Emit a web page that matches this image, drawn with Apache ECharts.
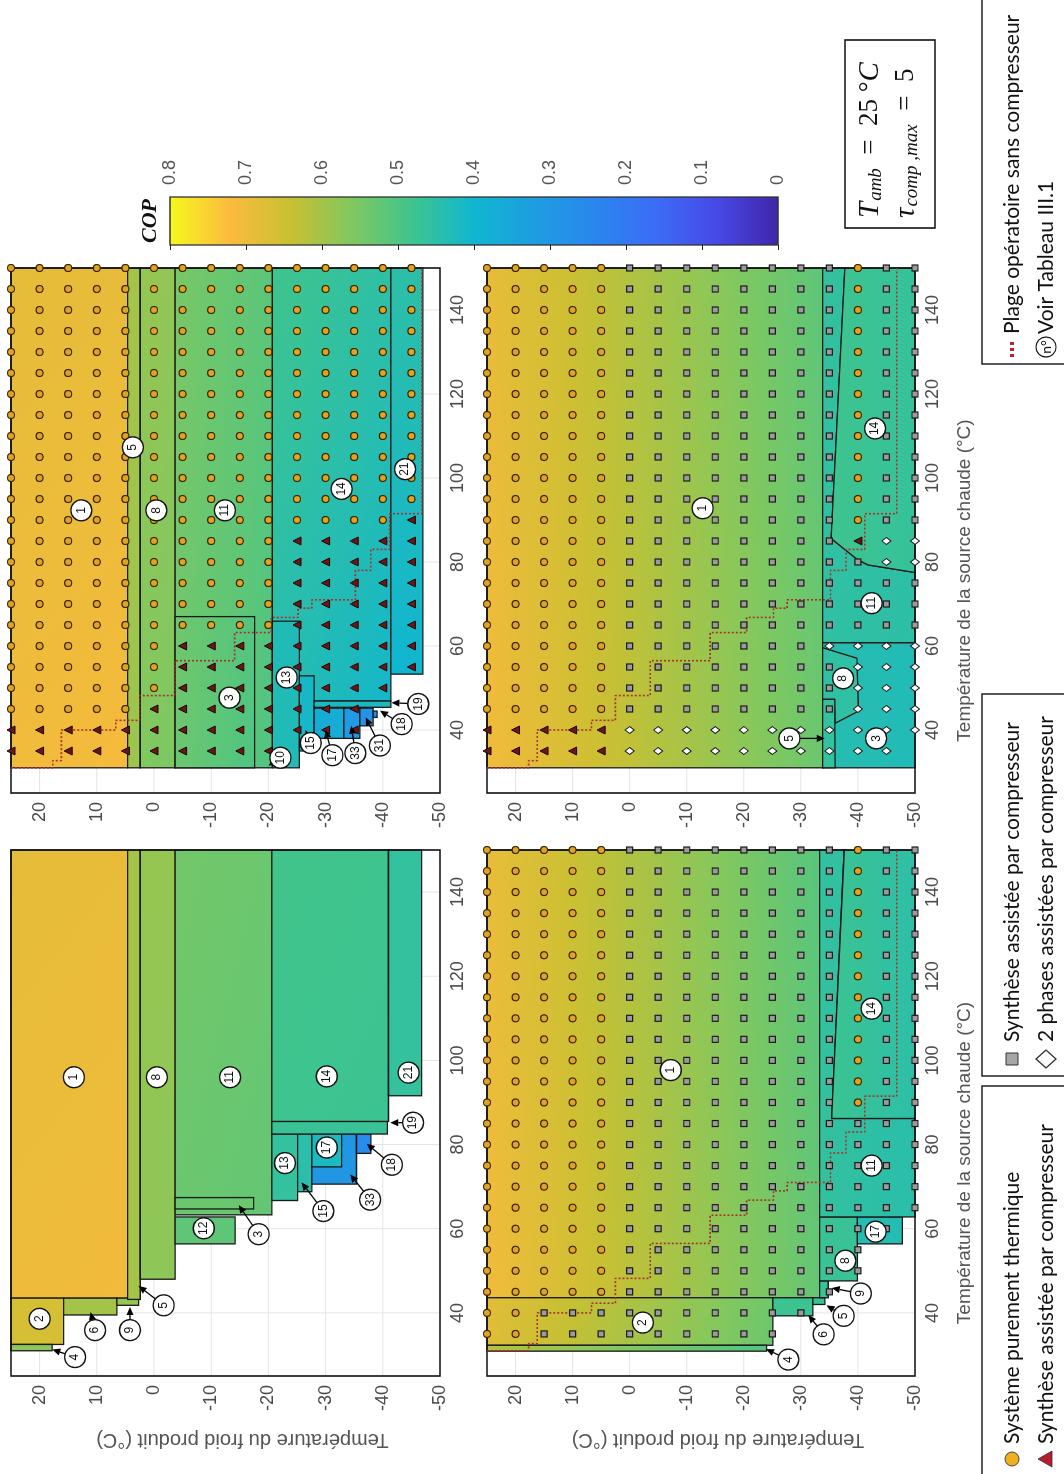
<!DOCTYPE html>
<html><head><meta charset="utf-8">
<script src="https://cdn.jsdelivr.net/npm/echarts@6/dist/echarts.min.js"></script>
<style>
html,body{margin:0;padding:0;background:#fff;}
#page{position:relative;width:1064px;height:1474px;overflow:hidden;background:#fff}
#chart{position:absolute;left:0;top:0;width:1474px;height:1064px;transform-origin:0 0;transform:translate(0px,1474px) rotate(-90deg);}
</style></head>
<body><div id="page"><div id="chart"></div></div>
<script>
// ---------------- DATA ----------------
const X_TICKS=[40,60,80,100,120,140];
const Y_TICKS=[-50,-40,-30,-20,-10,0,10,20];
const CB_TICKS=[0,0.1,0.2,0.3,0.4,0.5,0.6,0.7,0.8];
const DOT_X=[150,145,140,135,130,125,120,115,110,105,100,95,90,85,80,75,70,65,60,55,50,45,40,35,30,25];
const DOT_Y=[25,20,15,10,5,0,-5,-10,-15,-20,-25,-30,-35,-40,-45,-50];
// staircase: limit of operation without compressor (x = T source chaude, y = T froid)
const STAIR=[[31,25],[31,17.7],[32.7,17.7],[32.7,16.2],[40,16.2],[40,6.7],[42.3,6.7],[42.3,2.5],[48.2,2.5],[48.2,-3.6],[56.5,-3.6],[56.5,-14.1],[63.2,-14.1],[63.2,-20.5],[66.8,-20.5],[66.8,-25.2],[69,-25.2],[69,-27.6],[71,-27.6],[71,-35.2],[78,-35.2],[78,-37.9],[83,-37.9],[83,-41.2],[91.5,-41.2],[91.5,-46.8],[150,-46.8]];

// regions: [id, x0, x1, y0, y1, COP(x0,y1), COP(x1,y1), COP(x0,y0), COP(x1,y0)]  (or single COP)
const P1_RECTS=[
 ['1',43.5,150,4.6,25,.70,.685,.705,.69],
 ['2',32.5,43.5,15.8,25,.66],
 ['4',31,32.5,17.8,25,.575],
 ['6',39.5,43.5,6.5,15.8,.60],
 ['9',41.8,43.5,2.7,6.5,.585],
 ['5',43.2,150,2.4,4.6,.60],
 ['8',48,150,-3.7,2.4,.575,.585,.575,.585],
 ['11',63.3,150,-20.6,-3.7,.535,.545,.525,.535],
 ['12',56.4,62.8,-14.2,-3.7,.52],
 ['3',64.7,67.4,-17.4,-3.7,.535],
 ['13',66.7,82.5,-25.1,-20.6,.46],
 ['15',68.8,82.5,-27.6,-25.1,.445],
 ['33',70.6,82.5,-35.4,-27.6,.30],
 ['17',74.7,82.5,-32.8,-27.6,.42],
 ['18',77.9,82.5,-37.9,-35.4,.26],
 ['19',82.5,85.5,-40.8,-20.6,.47],
 ['14',85.5,150,-41,-20.6,.48,.485,.475,.48],
 ['21',91.6,150,-46.8,-41,.46]
];
const P1_POLYS=[];
// labels: [id, x, y, arrowX, arrowY]
const P1_LABELS=[
 ['1',96,14],['2',38.6,20],['4',29.5,13.8,31.3,17.8],['6',35.9,10.3,40.2,11.1],['9',35.9,4.2,41.4,4.2],
 ['5',41.8,-1.7,46.4,2.7],['8',96,-0.5],['11',96,-13.3],['12',60.1,-8.7],['3',58.7,-18.3,65.6,-14.8],
 ['13',75.6,-22.9],['15',64.2,-29.6,71,-25.8],['17',79.3,-30.2],['33',66.9,-37.8,72.9,-34.3],
 ['18',75.2,-41.6,80.2,-37.2],['19',85.2,-45.3,85.2,-41.3],['14',96.2,-30.2],['21',97.1,-44.5]
];

const P2_RECTS=[
 ['1',43.6,150,-33.3,25,.705,.69,.525,.51],
 ['2',32.3,43.6,-25.1,25,.675,.68,.535,.54],
 ['4',30.9,32.3,-24,25,.62,.62,.50,.50],
 ['6',39.3,43.6,-32.1,-25.1,.475],
 ['5',42,43.6,-34.2,-32.1,.47],
 ['9',43.6,47.6,-34.8,-33.3,.47],
 ['8',47.6,62.8,-39.9,-33.3,.47],
 ['17',56.4,62.8,-47.8,-39.9,.435]
];
const P2_POLYS=[
 ['11',[[62.8,-33.3],[150,-33.3],[150,-37.6],[86.2,-35.4],[86.2,-50],[62.8,-50]],.46,.46,.445,.445],
 ['14',[[86.2,-35.4],[150,-37.6],[150,-50],[86.2,-50]],.475,.475,.45,.45]
];
const P2_LABELS=[
 ['1',97.7,-7.2],['2',37.7,-2.3],['4',28.9,-27.8,31.4,-23.9],['6',34.9,-34,39.5,-31.3],['5',39.3,-37.5,41.8,-34.5],
 ['9',44.6,-40.5,45.9,-35.4],['8',52.4,-37.8],['17',59.3,-43.1],['11',75,-42.4],['14',112.3,-42.4]
];
const P2_MARKS=[
 '5o8s1o2s','5o8s1o2s','5o8s1o2s','5o8s1o2s','5o8s1o2s','5o8s1o2s','5o8s1o2s','5o8s1o2s','5o8s1o2s','5o8s1o2s','5o8s1o2s','5o8s1o2s','5o8s1o2s',
 '5o11s','5o11s','5o11s','5o11s','5o11s',
 '5o10s1.','5o9s2.','5o9s2.','5o8s3.','2o10s4.','2o9s5.','16.','16.'
];

const P3_RECTS=[
 ['1',31,150,4.6,25,.705,.685,.71,.69],
 ['5',31,150,2.4,4.6,.59,.60,.59,.60],
 ['8',31,150,-3.7,2.4,.56,.585,.555,.58],
 ['11',31,150,-20.7,-3.7,.54,.55,.50,.515],
 ['3',31,67,-17.6,-3.7,.535,.54,.50,.505],
 ['14',46.9,150,-41.4,-20.7,.44,.48,.405,.455],
 ['13',31,65.9,-25.4,-20.7,.43],
 ['21',53.3,150,-47,-41.4,.40,.45,.40,.45],
 ['15',35,52.9,-28,-25.4,.41],
 ['19',45.4,46.9,-41.4,-28,.42],
 ['17',38,45.2,-33.2,-28,.37],
 ['33',38,45.2,-36,-33.2,.31],
 ['31',41,45.2,-38.3,-36,.28],
 ['18',43,44.5,-39,-38.3,.25]
];
const P3_POLYS=[];
const P3_LABELS=[
 ['1',92.3,12.7],['5',107.3,3.7],['8',92.3,-0.4],['11',92.3,-12.4],['14',97.4,-32.8],['21',102.1,-43.9],
 ['3',47.7,-13.2],['13',52.5,-23.2],['10',33.4,-22.1,31.5,-20],['15',36.9,-27.4,40,-26.5],['17',34,-31.2,40,-30],
 ['33',34.5,-35.2,41,-34.5],['31',36.3,-39.5,43,-37],['18',41.4,-43.3,44.6,-39.5],['19',46.2,-46.2,46.5,-41.5]
];
const P3_MARKS=[
 '15o1.','15o1.','15o1.','15o1.','15o1.','15o1.','15o1.','15o1.','15o1.','15o1.','15o1.','15o1.',
 '14o1t1.','10o5t1.','10o5t1.','10o5t1.','10o5t1.','10o5t1.',
 '6o9t1.','6o9t1.','6o8t2.','5o8t3.','13t3.','10t6.','16.','16.'
];

const P4_RECTS=[
 ['1',31,150,-33.8,25,.705,.69,.535,.515],
 ['3',31,60.8,-50,-33.8,.44,.44,.43,.43]
];
const P4_POLYS=[
 ['11',[[60.8,-33.8],[150,-33.8],[150,-37.7],[85.6,-35.3],[80.5,-40],[79.3,-41.8],[77.5,-50],[60.8,-50]],.455,.46,.45,.455],
 ['14',[[85.6,-35.3],[150,-37.7],[150,-50],[77.5,-50],[79.3,-41.8],[80.5,-40]],.48,.48,.465,.465],
 ['8',[[59.6,-33.8],[57.1,-39.8],[44.5,-40.1],[41.6,-36],[47.3,-35.9],[47.3,-33.8]],.455],
 ['5',[[31,-33.8],[47.3,-33.8],[47.3,-35.9],[31,-36]],.46]
];
const P4_LABELS=[
 ['1',92.8,-12.8],['14',111.8,-43],['11',70.2,-42.4],['8',52.3,-37.4],['5',38,-28,38,-34.2],['3',38,-43.2]
];
const P4_MARKS=[
 '5o8s1o2s','5o8s1o2s','5o8s1o2s','5o8s1o2s','5o8s1o2s','5o8s1o2s','5o8s1o2s','5o8s1o2s','5o8s1o2s','5o8s1o2s','5o8s1o2s','5o8s1o2s','5o8s1o2s',
 '5o8s1t2d','5o9s2d','5o11s','5o11s','5o11s','5o7s4d','5o8s3d','5o8s3d','5o8s3d','5t11d','5t10d1.','16.','16.'
];

// ---------------- STYLE / HELPERS ----------------
const CMAP=[[0,'#3e26a8'],[0.08,'#4748e6'],[0.16,'#3c6cf6'],[0.24,'#2a86ee'],[0.32,'#1e9de0'],[0.40,'#10b6d0'],[0.48,'#3ec48e'],[0.56,'#80c860'],[0.64,'#c8c032'],[0.72,'#fbba3e'],[0.80,'#f6f81c']];
function hex2rgb(h){return [parseInt(h.substr(1,2),16),parseInt(h.substr(3,2),16),parseInt(h.substr(5,2),16)];}
const CM=CMAP.map(s=>[s[0],hex2rgb(s[1])]);
function cmap(v){
  if(v<=CM[0][0]) return 'rgb('+CM[0][1].join(',')+')';
  for(let i=1;i<CM.length;i++){
    if(v<=CM[i][0]){const t=(v-CM[i-1][0])/(CM[i][0]-CM[i-1][0]);const a=CM[i-1][1],b=CM[i][1];
      return 'rgb('+[0,1,2].map(k=>Math.round(a[k]+(b[k]-a[k])*t)).join(',')+')';}
  }
  return 'rgb('+CM[CM.length-1][1].join(',')+')';
}
function fillFor(pTL,pBR,c){
  const W=pBR[0]-pTL[0],H=pBR[1]-pTL[1];
  const m=(c[0]+c[1]+c[2]+c[3])/4;
  const gx=W>0.5?((c[1]-c[0])+(c[3]-c[2]))/(2*W):0;
  const gy=H>0.5?((c[2]-c[0])+(c[3]-c[1]))/(2*H):0;
  const g=Math.hypot(gx,gy);
  if(g<1e-7) return cmap(m);
  const ux=gx/g,uy=gy/g;
  const L=0.5*(Math.abs(ux)*W+Math.abs(uy)*H);
  const cx=(pTL[0]+pBR[0])/2,cy=(pTL[1]+pBR[1])/2;
  const f0=m-g*L,f1=m+g*L;
  const stops=[];for(let k=0;k<=10;k++){const t=k/10;stops.push({offset:t,color:cmap(f0+(f1-f0)*t)});}
  return new echarts.graphic.LinearGradient(cx-ux*L,cy-uy*L,cx+ux*L,cy+uy*L,stops,true);
}
function mkRegions(rects,polys){
  const out=[];
  rects.forEach(r=>{const c=r.length>6?[r[5],r[6],r[7],r[8]]:[r[5],r[5],r[5],r[5]];
    out.push({id:r[0],poly:[[r[1],r[3]],[r[2],r[3]],[r[2],r[4]],[r[1],r[4]]],c});});
  polys.forEach(p=>{const c=p.length>3?[p[2],p[3],p[4],p[5]]:[p[2],p[2],p[2],p[2]];out.push({id:p[0],poly:p[1],c});});
  out.forEach(o=>{const xs=o.poly.map(q=>q[0]),ys=o.poly.map(q=>q[1]);
    o.x0=Math.min(...xs);o.x1=Math.max(...xs);o.y0=Math.min(...ys);o.y1=Math.max(...ys);});
  return out;
}
function decodeMarks(rows){
  const res={o:[],t:[],s:[],d:[]};
  rows.forEach((row,i)=>{const re=/(\d+)([a-z.])/g;let m;let j=0;
    while((m=re.exec(row))){for(let k=0;k<+m[1];k++){if(res[m[2]]) res[m[2]].push([DOT_X[i],DOT_Y[j]]);j++;}}});
  return res;
}

const FONT='Liberation Sans, Arial, sans-serif';
const PANELS=[
 {rects:P1_RECTS,polys:P1_POLYS,labels:P1_LABELS,marks:null,stair:false,grid:{left:98,top:11,width:526,height:429},xName:false,yName:true},
 {rects:P3_RECTS,polys:P3_POLYS,labels:P3_LABELS,marks:P3_MARKS,stair:true,grid:{left:681,top:11,width:525,height:429},xName:false,yName:false},
 {rects:P2_RECTS,polys:P2_POLYS,labels:P2_LABELS,marks:P2_MARKS,stair:true,grid:{left:98,top:487,width:526,height:428},xName:true,yName:true},
 {rects:P4_RECTS,polys:P4_POLYS,labels:P4_LABELS,marks:P4_MARKS,stair:true,grid:{left:681,top:487,width:525,height:428},xName:true,yName:false}
];

const grids=[],xAxes=[],yAxes=[],series=[];
const SYM={
 o:{symbol:'circle',size:7,color:'#e3a21f',border:'#3a2604',bw:1.2},
 t:{symbol:'triangle',size:8,color:'#6e1616',border:'#1a0606',bw:1},
 s:{symbol:'rect',size:6,color:'#9b9b9b',border:'#1c1c1c',bw:1.2},
 d:{symbol:'diamond',size:[7,9],color:'#ffffff',border:'#1c1c1c',bw:1}
};
PANELS.forEach((P,i)=>{
  grids.push(Object.assign({show:false},P.grid));
  xAxes.push({type:'value',gridIndex:i,min:25,max:150,axisLine:{show:false},axisTick:{show:false},splitLine:{show:false},
    axisLabel:{customValues:X_TICKS,fontSize:18,color:'#4a4a4a',fontFamily:FONT,margin:9},
    name:P.xName?'Température de la source chaude (°C)':'',nameLocation:'middle',nameGap:40,
    nameTextStyle:{fontSize:19,color:'#555',fontFamily:FONT,padding:[0,100,0,0]}});
  yAxes.push({type:'value',gridIndex:i,min:-50,max:25,axisLine:{show:false},axisTick:{show:false},splitLine:{show:false},
    axisLabel:{customValues:Y_TICKS,fontSize:18,color:'#4a4a4a',fontFamily:FONT,margin:9},
    name:P.yName?'Température du froid produit (°C)':'',nameLocation:'middle',nameRotate:90,nameGap:54,
    nameTextStyle:{fontSize:20,color:'#555',fontFamily:FONT,padding:[0,34,0,0]}});
  // grid lines
  series.push({type:'custom',xAxisIndex:i,yAxisIndex:i,z:0,silent:true,clip:false,
    data:X_TICKS.map(v=>[v,0]).concat(Y_TICKS.map(v=>[v,1])),encode:{x:-1,y:-1},
    renderItem:(p,api)=>{const v=api.value(0),k=api.value(1);
      const a=k===0?api.coord([v,-50]):api.coord([25,v]);const b=k===0?api.coord([v,25]):api.coord([150,v]);
      return {type:'line',shape:{x1:a[0],y1:a[1],x2:b[0],y2:b[1]},style:{stroke:'#e4e4e4',lineWidth:1}};}});
  // regions
  const regs=mkRegions(P.rects,P.polys);
  series.push({type:'custom',xAxisIndex:i,yAxisIndex:i,z:1,silent:true,clip:false,
    data:regs.map(r=>[r.x0,r.x1,r.y0,r.y1]),encode:{x:[0,1],y:[2,3]},
    renderItem:(p,api)=>{const r=regs[p.dataIndex];
      const pts=r.poly.map(q=>api.coord(q));
      const fill=fillFor(api.coord([r.x0,r.y1]),api.coord([r.x1,r.y0]),r.c);
      return {type:'polygon',shape:{points:pts},style:{fill:fill,stroke:'#1a1a1a',lineWidth:1.3,lineJoin:'miter'}};}});
  // frame
  series.push({type:'custom',xAxisIndex:i,yAxisIndex:i,z:3,silent:true,clip:false,
    data:[[25,150,-50,25]],encode:{x:[0,1],y:[2,3]},
    renderItem:(p,api)=>{const a=api.coord([api.value(0),api.value(3)]),b=api.coord([api.value(1),api.value(2)]);
      return {type:'rect',shape:{x:a[0],y:a[1],width:b[0]-a[0],height:b[1]-a[1]},style:{fill:null,stroke:'#111',lineWidth:1.6}};}});
  if(P.stair){
    series.push({type:'line',xAxisIndex:i,yAxisIndex:i,z:4,silent:true,data:STAIR,showSymbol:false,clip:false,
      lineStyle:{color:'#a8322a',width:1.6,type:[2,2]}});
  }
  if(P.marks){
    const mk=decodeMarks(P.marks);
    Object.keys(mk).forEach(k=>{const S=SYM[k];
      series.push({type:'scatter',xAxisIndex:i,yAxisIndex:i,z:5,silent:true,clip:false,data:mk[k],symbol:S.symbol,symbolSize:S.size,
        itemStyle:{color:S.color,borderColor:S.border,borderWidth:S.bw,opacity:1}});});
  }
  // arrows
  const arr=P.labels.filter(l=>l.length>3);
  series.push({type:'custom',xAxisIndex:i,yAxisIndex:i,z:6,silent:true,clip:false,
    data:arr.map(l=>[l[1],l[2],l[3],l[4]]),encode:{x:[0,2],y:[1,3]},
    renderItem:(p,api)=>{const a=api.coord([api.value(0),api.value(1)]),b=api.coord([api.value(2),api.value(3)]);
      const dx=b[0]-a[0],dy=b[1]-a[1],L=Math.hypot(dx,dy)||1,ux=dx/L,uy=dy/L;
      const s=[a[0]+ux*10.5,a[1]+uy*10.5];const h=8,w=3.6;const base=[b[0]-ux*h,b[1]-uy*h];
      return {type:'group',children:[
        {type:'line',shape:{x1:s[0],y1:s[1],x2:base[0],y2:base[1]},style:{stroke:'#000',lineWidth:1.3}},
        {type:'polygon',shape:{points:[[b[0],b[1]],[base[0]-uy*w,base[1]+ux*w],[base[0]+uy*w,base[1]-ux*w]]},style:{fill:'#000'}}]};}});
  // label bubbles
  series.push({type:'scatter',xAxisIndex:i,yAxisIndex:i,z:7,silent:true,clip:false,
    data:P.labels.map(l=>[l[1],l[2],l[0]]),symbol:'circle',symbolSize:21,
    itemStyle:{color:'#fff',borderColor:'#111',borderWidth:1.3,opacity:1},
    label:{show:true,position:'inside',formatter:q=>q.value[2],fontSize:12,color:'#111',fontFamily:FONT}});
});

// colorbar
const CBI=4;
grids.push({left:1229,top:170,width:48,height:608,show:false});
xAxes.push({type:'value',gridIndex:CBI,min:0,max:1,show:false});
yAxes.push({type:'value',gridIndex:CBI,min:0,max:0.8,interval:0.1,position:'right',z:10,
  axisLine:{show:false},axisTick:{show:true,inside:true,length:5,lineStyle:{color:'#222',width:1}},splitLine:{show:false},
  axisLabel:{fontSize:18,color:'#555',fontFamily:FONT,margin:12,formatter:v=>Math.abs(v)<1e-9?'0':v.toFixed(1)}});
series.push({type:'custom',xAxisIndex:CBI,yAxisIndex:CBI,z:1,silent:true,clip:false,data:[[0,1,CB_TICKS[0],CB_TICKS[CB_TICKS.length-1]]],
  encode:{x:[0,1],y:[2,3]},
  renderItem:(p,api)=>{const a=api.coord([api.value(0),api.value(3)]),b=api.coord([api.value(1),api.value(2)]);
    const top=api.value(3),bot=api.value(2);
    const stops=[];for(let k=0;k<=40;k++){const t=k/40;stops.push({offset:t,color:cmap(top-(top-bot)*t)});}
    return {type:'rect',shape:{x:a[0],y:a[1],width:b[0]-a[0],height:b[1]-a[1]},
      style:{fill:new echarts.graphic.LinearGradient(0,0,0,1,stops),stroke:'#333',lineWidth:1.3}};}});

// legends & annotation box
const LF='21px Lato, "Open Sans", sans-serif';
function txt(x,y,t,font,fill){return {type:'text',z:20,style:{x:x,y:y,text:t,font:font||LF,fill:fill||'#111',align:'left',verticalAlign:'middle',textAlign:'left',textVerticalAlign:'middle'}};}
const MATH={v:{font:'italic 29px "Liberation Serif", serif',fill:'#111'},s:{font:'italic 19px "Liberation Serif", serif',fill:'#111',verticalAlign:'bottom',padding:[12,0,0,1]},n:{font:'27px "Liberation Serif", serif',fill:'#111'}};
const graphic=[
 {type:'text',z:20,style:{x:1253,y:150,text:'COP',font:'italic bold 22px "Liberation Serif", "DejaVu Serif", serif',fill:'#111',align:'center',verticalAlign:'middle',textAlign:'center',textVerticalAlign:'middle'}},
 {type:'rect',z:19,shape:{x:1246,y:845,width:188,height:90},style:{fill:'#fff',stroke:'#111',lineWidth:1.6}},
 {type:'text',z:20,style:{x:1256,y:870,text:'{v|T}{s|amb}{n|  =  25 °}{v|C}',verticalAlign:'middle',align:'left',textVerticalAlign:'middle',rich:MATH}},
 {type:'text',z:20,style:{x:1256,y:906,text:'{v|τ}{s|comp ,max}{n|  =  5}',verticalAlign:'middle',align:'left',textVerticalAlign:'middle',rich:MATH}},
 // legend box A
 {type:'rect',z:19,shape:{x:-3,y:982,width:391,height:100},style:{fill:'#fff',stroke:'#222',lineWidth:1.5}},
 {type:'circle',z:20,shape:{cx:15,cy:1012,r:7},style:{fill:'#f0b01e',stroke:'#444',lineWidth:1}},
 txt(30,1012,'Système purement thermique'),
 {type:'polygon',z:20,shape:{points:[[15,1038],[23,1052],[7,1052]]},style:{fill:'#b51c2c',stroke:'#333',lineWidth:0.8}},
 txt(30,1046,'Synthèse assistée par compresseur'),
 // legend box B
 {type:'rect',z:19,shape:{x:398,y:982,width:382,height:100},style:{fill:'#fff',stroke:'#222',lineWidth:1.5}},
 {type:'rect',z:20,shape:{x:409,y:1006,width:12,height:12},style:{fill:'#a6a6a6',stroke:'#333',lineWidth:1}},
 txt(432,1012,'Synthèse assistée par compresseur'),
 {type:'polygon',z:20,shape:{points:[[415,1036],[424,1046],[415,1056],[406,1046]]},style:{fill:'#fff',stroke:'#333',lineWidth:1.2}},
 txt(432,1046,'2 phases assistées par compresseur'),
 // legend box C
 {type:'rect',z:19,shape:{x:1110,y:982,width:380,height:100},style:{fill:'#fff',stroke:'#222',lineWidth:1.5}},
 {type:'line',z:20,shape:{x1:1117,y1:1012,x2:1133,y2:1012},style:{stroke:'#c0202c',lineWidth:4,lineDash:[3,3]}},
 txt(1140,1012,'Plage opératoire sans compresseur'),
 {type:'circle',z:20,shape:{cx:1127,cy:1046,r:10},style:{fill:'#fff',stroke:'#111',lineWidth:1.2}},
 {type:'text',z:20,style:{x:1127,y:1046,text:'n°',font:'14px Lato, sans-serif',fill:'#111',align:'center',verticalAlign:'middle',textAlign:'center',textVerticalAlign:'middle'}},
 txt(1140,1046,'Voir Tableau III.1')
];

const chart=echarts.init(document.getElementById('chart'),null,{renderer:'canvas',width:1474,height:1064});
chart.setOption({animation:false,backgroundColor:'#fff',grid:grids,xAxis:xAxes,yAxis:yAxes,series:series,graphic:graphic});
</script></body></html>
